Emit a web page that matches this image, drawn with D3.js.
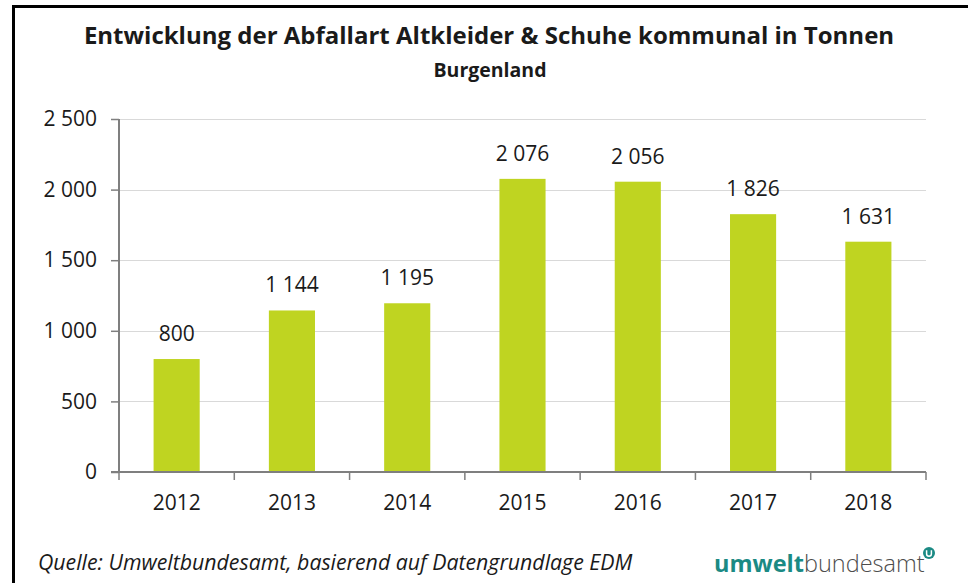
<!DOCTYPE html>
<html>
<head>
<meta charset="utf-8">
<script src="https://cdn.jsdelivr.net/npm/d3@7"></script>
<style>
  body { margin: 0; background: #fff; }
  text { font-family: "Open Sans", sans-serif; fill: #1a1a1a; }
</style>
</head>
<body>
<div id="chart"></div>
<script>
var years = ["2012", "2013", "2014", "2015", "2016", "2017", "2018"];
var tonnes = [800, 1144, 1195, 2076, 2056, 1826, 1631];
var yTicks = [0, 500, 1000, 1500, 2000, 2500];

var svgWidth = 968;
var svgHeight = 583;

var margin = { top: 119, right: 42, bottom: 111, left: 119 };
var width = svgWidth - margin.left - margin.right;
var height = svgHeight - margin.top - margin.bottom;

var fmt = d3.formatLocale({ decimal: ",", thousands: " ", grouping: [3], currency: ["", "€"] }).format(",d");

var svg = d3.select("#chart")
  .append("svg")
  .attr("width", svgWidth)
  .attr("height", svgHeight);

// frame (only left and top edges are visible in the picture)
svg.append("path")
  .attr("d", "M13.5,583 L13.5,6.5 L968,6.5")
  .attr("fill", "none")
  .attr("stroke", "#000")
  .attr("stroke-width", 3);

// titles
svg.append("text")
  .attr("x", 489)
  .attr("y", 44)
  .attr("text-anchor", "middle")
  .attr("font-size", "24px")
  .attr("font-weight", "bold")
  .text("Entwicklung der Abfallart Altkleider & Schuhe kommunal in Tonnen");

svg.append("text")
  .attr("x", 490)
  .attr("y", 77)
  .attr("text-anchor", "middle")
  .attr("font-size", "19.5px")
  .attr("font-weight", "bold")
  .text("Burgenland");

var chartGroup = svg.append("g")
  .attr("transform", `translate(${margin.left}, ${margin.top})`);

var x = d3.scaleBand()
  .domain(years)
  .range([0, width])
  .paddingInner(0.6)
  .paddingOuter(0.3);

var y = d3.scaleLinear()
  .domain([0, 2500])
  .range([height, 0]);

// gridlines
chartGroup.selectAll(".grid")
  .data(yTicks.filter(d => d > 0))
  .enter()
  .append("line")
  .attr("x1", 0)
  .attr("x2", width)
  .attr("y1", d => Math.round(y(d)) + 0.5)
  .attr("y2", d => Math.round(y(d)) + 0.5)
  .attr("stroke", "#d9d9d9")
  .attr("stroke-width", 1);

// bars
chartGroup.selectAll("rect")
  .data(tonnes)
  .enter()
  .append("rect")
  .attr("x", (d, i) => x(years[i]))
  .attr("y", d => y(d))
  .attr("width", x.bandwidth())
  .attr("height", d => height - y(d))
  .attr("fill", "#bfd421");

// value labels
chartGroup.selectAll(".val")
  .data(tonnes)
  .enter()
  .append("text")
  .attr("class", "val")
  .attr("x", (d, i) => x(years[i]) + x.bandwidth() / 2)
  .attr("y", d => y(d) - 18)
  .attr("text-anchor", "middle")
  .attr("font-size", "21px")
  .text(d => fmt(d));

// y axis
var leftAxis = d3.axisLeft(y)
  .tickValues(yTicks)
  .tickSize(8)
  .tickPadding(14)
  .tickFormat(fmt);

var yAxis = chartGroup.append("g").call(leftAxis);
yAxis.select(".domain").attr("stroke", "#7f7f7f").attr("stroke-width", 2).attr("d", `M0,${height}V0`);
yAxis.selectAll(".tick line").attr("stroke", "#7f7f7f").attr("stroke-width", 1.5);
yAxis.selectAll(".tick text").attr("font-size", "21px").attr("font-family", "Open Sans").attr("fill", "#1a1a1a");

// x axis: line + ticks at category boundaries
var xAxis = chartGroup.append("g").attr("transform", `translate(0, ${height})`);
xAxis.append("line")
  .attr("x1", -8)
  .attr("x2", width)
  .attr("stroke", "#7f7f7f")
  .attr("stroke-width", 2);

var step = x.step();
var bounds = d3.range(years.length + 1).map(i => x(years[0]) - x.paddingOuter() * step + i * step);
xAxis.selectAll(".xtick")
  .data(bounds)
  .enter()
  .append("line")
  .attr("x1", d => d)
  .attr("x2", d => d)
  .attr("y1", 0)
  .attr("y2", 8)
  .attr("stroke", "#7f7f7f")
  .attr("stroke-width", 1.5);

xAxis.selectAll(".xlab")
  .data(years)
  .enter()
  .append("text")
  .attr("x", d => x(d) + x.bandwidth() / 2)
  .attr("y", 38)
  .attr("text-anchor", "middle")
  .attr("font-size", "21px")
  .text(d => d);

// footer
svg.append("text")
  .attr("x", 38)
  .attr("y", 570)
  .attr("font-size", "21.3px")
  .attr("font-style", "italic")
  .text("Quelle: Umweltbundesamt, basierend auf Datengrundlage EDM");

var logo = svg.append("text")
  .attr("x", 714)
  .attr("y", 572)
  .attr("font-size", "23.5px")
  .attr("font-family", "Lato, sans-serif");
logo.append("tspan").attr("font-weight", "bold").style("fill", "#1b8a84").text("umwelt");
logo.append("tspan").attr("font-weight", "300").style("fill", "#4d4d4d").text("bundesamt");

// small logo mark: teal dot with a white "u"
svg.append("circle")
  .attr("cx", 929)
  .attr("cy", 553)
  .attr("r", 6)
  .attr("fill", "#1b8a84");
svg.append("path")
  .attr("d", "M926.6,550.3 V554 Q926.6,556.2 929,556.2 Q931.4,556.2 931.4,554 V550.3")
  .attr("fill", "none")
  .attr("stroke", "#fff")
  .attr("stroke-width", 1.5);
</script>
</body>
</html>
